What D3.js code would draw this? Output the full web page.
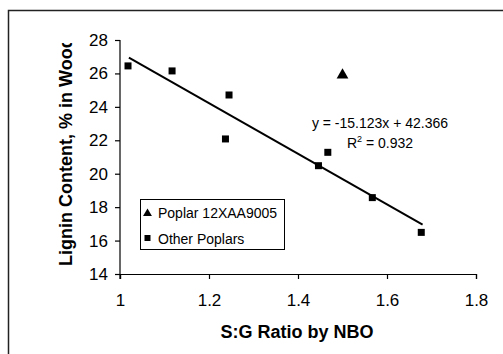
<!DOCTYPE html>
<html>
<head>
<meta charset="utf-8">
<script src="https://cdn.jsdelivr.net/npm/d3@7"></script>
<style>
  body { margin: 0; background: #fff; }
  svg { display: block; font-family: "Liberation Sans", Arial, sans-serif; }
</style>
</head>
<body>
<div id="chart"></div>
<script>
// Data
const otherX = [1.018, 1.117, 1.245, 1.237, 1.467, 1.446, 1.567, 1.677];
const otherY = [26.45, 26.15, 24.71, 22.08, 21.28, 20.48, 18.57, 16.49];
const poplarX = [1.50];
const poplarY = [25.9];
const xTicks = [1, 1.2, 1.4, 1.6, 1.8];
const yTicks = [14, 16, 18, 20, 22, 24, 26, 28];
const fit = { slope: -15.123, intercept: 42.366, r2: 0.932, x0: 1.02, x1: 1.68 };
const legendLabels = ['Poplar 12XAA9005', 'Other Poplars'];

const width = 503, height = 354;
const svg = d3.select('#chart').append('svg')
  .attr('width', width)
  .attr('height', height);

// Outer chart border (extends past the frame on right/bottom)
svg.append('rect')
  .attr('x', 8.5).attr('y', 10.5)
  .attr('width', 520).attr('height', 360)
  .attr('fill', 'none')
  .attr('stroke', '#222')
  .attr('stroke-width', 1.5);

const x = d3.scaleLinear().domain([1, 1.8]).range([120, 476]);
const y = d3.scaleLinear().domain([14, 28]).range([274, 40]);

// Axes
const xAxis = svg.append('g')
  .attr('transform', 'translate(0,274)')
  .call(d3.axisBottom(x).tickValues(xTicks).tickFormat(d3.format('')).tickSizeOuter(0).tickSize(5).tickPadding(15));
const yAxis = svg.append('g')
  .attr('transform', 'translate(120,0)')
  .call(d3.axisLeft(y).tickValues(yTicks).tickSizeOuter(0).tickSize(5).tickPadding(7));

[xAxis, yAxis].forEach(a => {
  a.select('.domain').attr('stroke', '#000').attr('stroke-width', 1.2);
  a.selectAll('.tick line').attr('stroke', '#000').attr('stroke-width', 1.2);
  a.selectAll('.tick text')
    .attr('fill', '#000')
    .style('font-size', '17px')
    .style('font-family', '"Liberation Sans", Arial, sans-serif');
});
// extend the y-axis line down through the x tick at 1
yAxis.select('.domain').attr('d', `M0,${y(28)}V${274 + 5}`);

// Axis titles
svg.append('text')
  .attr('x', 297).attr('y', 338)
  .attr('text-anchor', 'middle')
  .attr('font-weight', 'bold')
  .attr('font-size', '18px')
  .text('S:G Ratio by NBO');

svg.append('clipPath').attr('id', 'ylabClip')
  .append('rect').attr('x', 0).attr('y', 43).attr('width', 110).attr('height', 300);

svg.append('g')
  .attr('clip-path', 'url(#ylabClip)')
  .append('text')
  .attr('transform', 'translate(72,266) rotate(-90)')
  .attr('text-anchor', 'start')
  .attr('font-weight', 'bold')
  .attr('font-size', '18px')
  .text('Lignin Content, % in Wood');

// Trend line
svg.append('line')
  .attr('x1', x(fit.x0)).attr('y1', y(fit.slope * fit.x0 + fit.intercept))
  .attr('x2', x(fit.x1)).attr('y2', y(fit.slope * fit.x1 + fit.intercept))
  .attr('stroke', '#000')
  .attr('stroke-width', 2);

// Points
const otherPts = d3.zip(otherX, otherY);
svg.selectAll('.sq').data(otherPts).enter().append('rect')
  .attr('class', 'sq')
  .attr('x', d => x(d[0]) - 3.5).attr('y', d => y(d[1]) - 3.5)
  .attr('width', 7).attr('height', 7)
  .attr('fill', '#000');

const tri = d3.symbol().type(d3.symbolTriangle).size(60);
svg.selectAll('.tri').data(d3.zip(poplarX, poplarY)).enter().append('path')
  .attr('class', 'tri')
  .attr('transform', d => `translate(${x(d[0])},${y(d[1])})`)
  .attr('d', tri)
  .attr('fill', '#000');

// Equation
const eq = svg.append('g').attr('font-size', '14px').attr('text-anchor', 'middle');
eq.append('text').attr('x', 380).attr('y', 128)
  .text(`y = ${fit.slope}x + ${fit.intercept}`);
const r2 = eq.append('text').attr('x', 380).attr('y', 148);
r2.append('tspan').text('R');
r2.append('tspan').attr('font-size', '9px').attr('dy', -6).text('2');
r2.append('tspan').attr('dy', 6).text(` = ${fit.r2}`);

// Legend
const legend = svg.append('g');
legend.append('rect')
  .attr('x', 140.5).attr('y', 199.5).attr('width', 144).attr('height', 50)
  .attr('fill', '#fff').attr('stroke', '#000').attr('stroke-width', 1);
legend.append('path')
  .attr('transform', 'translate(147.5,213.5)')
  .attr('d', d3.symbol().type(d3.symbolTriangle).size(34))
  .attr('fill', '#000');
legend.append('rect')
  .attr('x', 144.5).attr('y', 235).attr('width', 6).attr('height', 6)
  .attr('fill', '#000');
legend.selectAll('.lt').data(legendLabels).enter().append('text')
  .attr('x', 158).attr('y', (d, i) => 218 + i * 25.5)
  .attr('font-size', '14px')
  .text(d => d);
</script>
</body>
</html>
